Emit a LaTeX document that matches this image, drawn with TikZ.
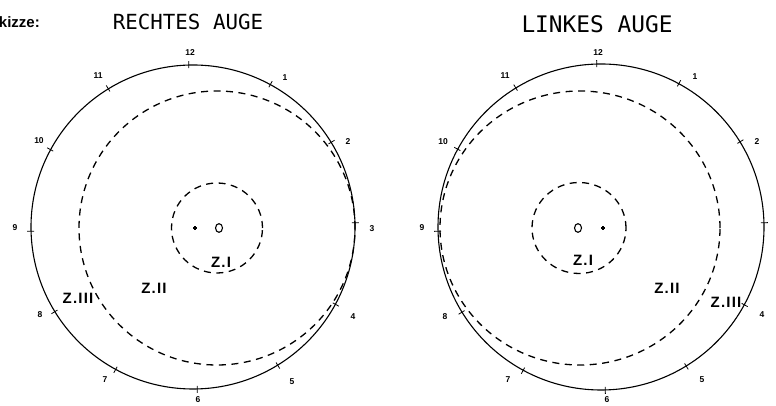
\documentclass[tikz,border=0pt]{standalone}
\usepackage{fontspec}
\setmainfont{Liberation Sans}
\newfontfamily\titlefont{DejaVu Sans Mono}
\newfontfamily\zonefont[LetterSpace=8]{Liberation Sans}
\begin{document}
\begin{tikzpicture}[x=1pt,y=1pt,
  outer/.style={line width=1.1pt},
  dashring/.style={line width=1.3pt, dash pattern=on 7pt off 5.5pt},
  tickmark/.style={line width=0.8pt},
  hour/.style={font=\bfseries\fontsize{8.5}{9}\selectfont, inner sep=0pt},
  zone/.style={font=\zonefont\bfseries\fontsize{15}{17}\selectfont, inner sep=0pt},
  eyetitle/.style={font=\titlefont, inner sep=0pt},
  sketchlabel/.style={font=\bfseries\fontsize{15}{17}\selectfont, inner sep=0pt, anchor=east}]
\clip (0,0) rectangle (776,406);
\fill[white] (0,0) rectangle (776,406);

% ---------- titles
\node[sketchlabel] (skizze) at (40,384) {Skizze:};
\node[eyetitle, font=\titlefont\fontsize{20.8}{24}\selectfont] (titleR) at (188,384) {RECHTES AUGE};
\node[eyetitle, font=\titlefont\fontsize{22.8}{26}\selectfont] (titleL) at (597,382) {LINKES AUGE};

% ---------- right eye (left drawing)
\coordinate (RC) at (193,179);
\draw[outer] (RC) circle (162);
\foreach \k in {0,...,11}{
  \draw[tickmark] ([shift={({91.5-30*\k}:159)}]RC) -- ([shift={({91.5-30*\k}:166)}]RC);
}
\draw[dashring] (217,178) ellipse [x radius=138, y radius=137];
\draw[dashring] (217,178) ellipse [x radius=45.5, y radius=45];
\draw[line width=1.1pt] (219,178) ellipse [x radius=3.5, y radius=4.3];
\coordinate (RP) at (195,178);
\draw[line width=1.1pt] ([xshift=-2pt]RP) -- ([xshift=2pt]RP) ([yshift=-2pt]RP) -- ([yshift=2pt]RP);

\node[hour] (r12) at (190,353) {12};
\node[hour] (r11) at (98,330) {11};
\node[hour] (r1) at (285,328) {1};
\node[hour] (r10) at (39,265) {10};
\node[hour] (r2) at (348,264) {2};
\node[hour] (r3) at (372,177) {3};
\node[hour] (r9) at (15,178) {9};
\node[hour] (r8) at (40,91) {8};
\node[hour] (r4) at (353,89) {4};
\node[hour] (r7) at (105,26) {7};
\node[hour] (r5) at (292,24) {5};
\node[hour] (r6) at (198,6) {6};

\node[zone] (rz1) at (221,144) {Z.I};
\node[zone] (rz2) at (154,118) {Z.II};
\node[zone] (rz3) at (78,108) {Z.III};

% ---------- left eye (right drawing)
\coordinate (LC) at (601,179);
\draw[outer] (LC) circle (163);
\foreach \k in {0,...,11}{
  \draw[tickmark] ([shift={({91.5-30*\k}:160)}]LC) -- ([shift={({91.5-30*\k}:167)}]LC);
}
\draw[dashring] (580,178) ellipse [x radius=140, y radius=137];
\draw[dashring] (579,178) ellipse [x radius=47, y radius=45.5];
\draw[line width=1.1pt] (578,178) ellipse [x radius=3.5, y radius=4.3];
\coordinate (LP) at (603,178);
\draw[line width=1.1pt] ([xshift=-2pt]LP) -- ([xshift=2pt]LP) ([yshift=-2pt]LP) -- ([yshift=2pt]LP);

\node[hour] (l12) at (598,353) {12};
\node[hour] (l11) at (505,330) {11};
\node[hour] (l1) at (695,329) {1};
\node[hour] (l10) at (443,264) {10};
\node[hour] (l2) at (757,264) {2};
\node[hour] (l9) at (422,178) {9};
\node[hour] (l8) at (445,89) {8};
\node[hour] (l4) at (762,91) {4};
\node[hour] (l7) at (508,26) {7};
\node[hour] (l5) at (702,26) {5};
\node[hour] (l6) at (607,6) {6};

\node[zone] (lz1) at (583,146) {Z.I};
\node[zone] (lz2) at (667,118) {Z.II};
\node[zone] (lz3) at (726,104) {Z.III};
\end{tikzpicture}
\end{document}
